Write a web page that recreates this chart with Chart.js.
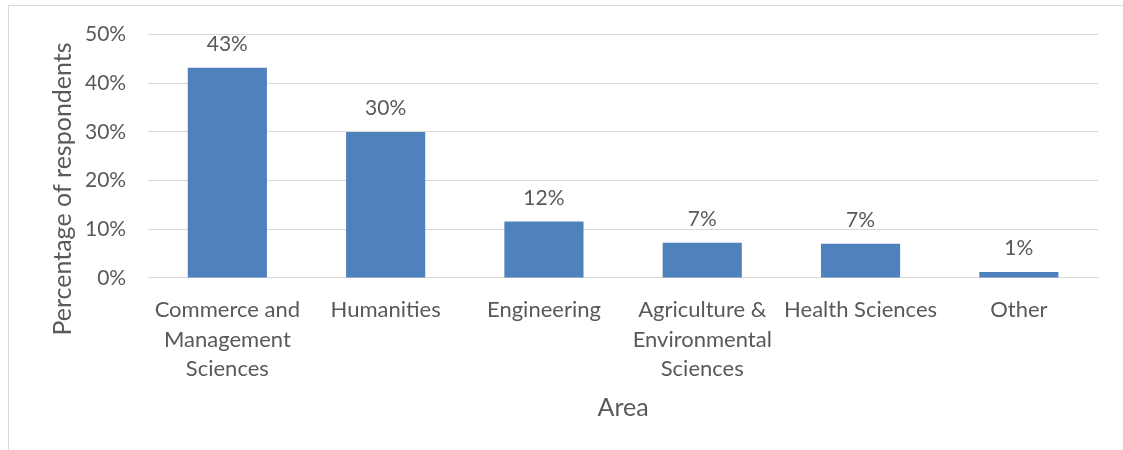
<!DOCTYPE html>
<html>
<head>
<meta charset="utf-8">
<script src="https://cdn.jsdelivr.net/npm/chart.js@4"></script>
<style>
    body { margin: 0; background: #fff; overflow: hidden; }
    #frame { position: absolute; left: 8px; top: 5px; width: 1200px; height: 500px; border: 1px solid #d9d9d9; }
    #wrap { position: absolute; left: 0; top: 0; width: 1123px; height: 450px; }
</style>
</head>
<body>
<div id="frame"></div>
<div id="wrap"><canvas id="areaChart"></canvas></div>
<script>
// Survey respondents by area
const areas = [
    ['Commerce and', 'Management', 'Sciences'],
    'Humanities',
    'Engineering',
    ['Agriculture &', 'Environmental', 'Sciences'],
    'Health Sciences',
    'Other'
];
const shares = [43.2, 30.0, 11.6, 7.2, 7.0, 1.2];
const yTicks = [0, 10, 20, 30, 40, 50];

const textColor = '#595959';
const fontFamily = 'Lato, "Open Sans", sans-serif';

// draws the value above each bar (no datalabels plugin available offline)
const valueLabels = {
    id: 'valueLabels',
    afterDatasetsDraw(chart) {
        const ctx = chart.ctx;
        const meta = chart.getDatasetMeta(0);
        ctx.save();
        ctx.fillStyle = textColor;
        ctx.font = '21px ' + fontFamily;
        ctx.textAlign = 'center';
        ctx.textBaseline = 'bottom';
        meta.data.forEach((bar, i) => {
            const value = chart.data.datasets[0].data[i];
            ctx.fillText(Math.round(value) + '%', bar.x, bar.y - 13);
        });
        ctx.restore();
    }
};

// y axis title sits a bit lower than the plot centre in the original, so draw it by hand
const yTitle = {
    id: 'yTitle',
    afterDraw(chart) {
        const ctx = chart.ctx;
        ctx.save();
        ctx.fillStyle = textColor;
        ctx.font = '25px ' + fontFamily;
        ctx.textAlign = 'center';
        ctx.textBaseline = 'middle';
        ctx.translate(63, 189);
        ctx.rotate(-Math.PI / 2);
        ctx.fillText('Percentage of respondents', 0, 0);
        ctx.restore();
    }
};

const ctx = document.getElementById('areaChart').getContext('2d');
new Chart(ctx, {
    type: 'bar',
    data: {
        labels: areas,
        datasets: [{
            data: shares,
            backgroundColor: '#4f81bd',
            borderWidth: 0,
            categoryPercentage: 1.0,
            barPercentage: 0.5
        }]
    },
    plugins: [valueLabels, yTitle],
    options: {
        responsive: true,
        maintainAspectRatio: false,
        animation: false,
        layout: {
            padding: { left: 63, right: 25, top: 34, bottom: 23 }
        },
        plugins: {
            legend: { display: false },
            tooltip: { enabled: false }
        },
        scales: {
            x: {
                grid: { display: false },
                border: { display: true, color: '#d9d9d9', width: 1 },
                ticks: {
                    color: textColor,
                    font: { family: fontFamily, size: 22, lineHeight: 1.32 },
                    padding: 10,
                    maxRotation: 0,
                    autoSkip: false
                },
                title: {
                    display: true,
                    text: 'Area',
                    color: textColor,
                    font: { family: fontFamily, size: 25 },
                    padding: { top: 0 }
                }
            },
            y: {
                min: 0,
                max: 50,
                afterBuildTicks: axis => { axis.ticks = yTicks.map(v => ({ value: v })); },
                grid: { color: '#d9d9d9', drawTicks: false },
                border: { display: false },
                ticks: {
                    color: textColor,
                    font: { family: fontFamily, size: 21 },
                    padding: 22,
                    callback: v => v + '%'
                }
            }
        }
    }
});
</script>
</body>
</html>
